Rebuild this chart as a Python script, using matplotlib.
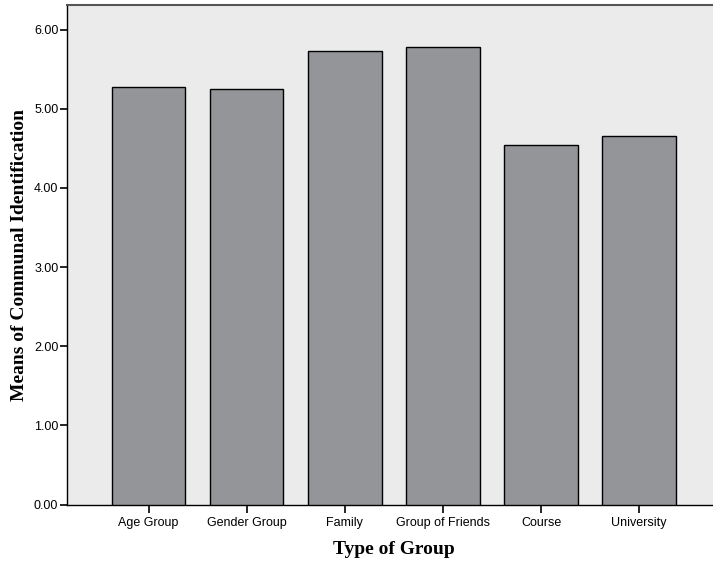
import matplotlib
matplotlib.use('Agg')
import matplotlib.pyplot as plt
import numpy as np

# Dados do gráfico
groups = ['Age Group', 'Gender Group', 'Family', 'Group of Friends', 'Course', 'University']
means = [5.28, 5.25, 5.73, 5.78, 4.54, 4.65]
y_ticks = [0, 1, 2, 3, 4, 5, 6]

fig = plt.figure(figsize=(7.13, 5.64), dpi=100)
ax = fig.add_axes([66.7 / 713, 59.5 / 564, (721 - 66.7) / 713, (504.5 - 5) / 564])
ax.set_facecolor('#EBEBEB')

x = np.arange(len(groups))
ax.bar(x, means, width=0.75, color='#939598', edgecolor='black', linewidth=1.0, zorder=3)

ax.set_xlim(-0.834, len(groups) - 1 + 0.834)
ax.set_ylim(0, 6.31)
ax.set_yticks(y_ticks)
ax.set_yticklabels([f'{v:.2f}' for v in y_ticks])
ax.set_xticks(x)
ax.set_xticklabels(groups)

for lab in ax.get_xticklabels() + ax.get_yticklabels():
    lab.set_fontfamily('Liberation Sans')
    lab.set_fontsize(9)

ax.tick_params(axis='y', length=5, width=1.2, pad=1)
ax.tick_params(axis='x', length=6, width=1.2, pad=3)

for side in ['left', 'bottom']:
    ax.spines[side].set_color('black')
    ax.spines[side].set_linewidth(1.0)
ax.spines['top'].set_color('#555555')
ax.spines['top'].set_linewidth(1.5)
ax.spines['right'].set_visible(False)

ax.set_xlabel('Type of Group', fontfamily='Liberation Serif', fontweight='bold',
              fontsize=14, labelpad=9)
ax.set_ylabel('Means of Communal Identification', fontfamily='Liberation Serif',
              fontweight='bold', fontsize=14, labelpad=4)

fig.savefig('out.png', dpi=100)
